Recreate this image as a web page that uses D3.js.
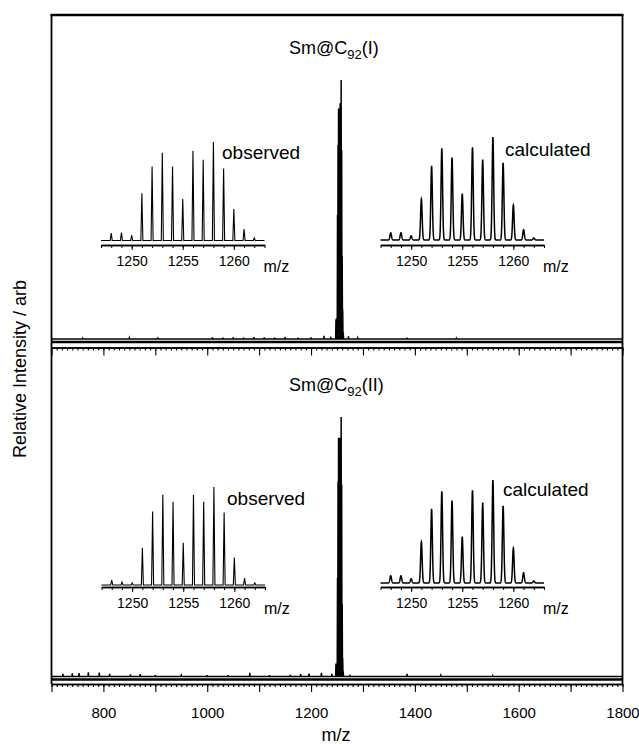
<!DOCTYPE html>
<html>
<head>
<meta charset="utf-8">
<script src="https://cdn.jsdelivr.net/npm/d3@7/dist/d3.min.js"></script>
<style>
  html, body { margin: 0; padding: 0; background: #fff; }
  svg { display: block; font-family: "Liberation Sans", Arial, Helvetica, sans-serif; }
</style>
</head>
<body>
<svg id="chart" width="639" height="744"></svg>
<script>
// Isotope cluster of Sm@C92 (m/z) and relative intensities (% of strongest line)
const isotopeMz   = [1248, 1249, 1250, 1251, 1252, 1253, 1254, 1255, 1256, 1257, 1258, 1259, 1260, 1261, 1262];
const observedI   = [7.5, 8, 5.5, 48, 75, 89, 75, 42, 91, 82, 100, 73, 32, 11.5, 2.5];
const observedII  = [5, 3, 2, 38, 75, 92, 85, 43, 92, 85, 100, 74, 28, 7, 2];
const calculated  = [7, 7, 4, 40, 72, 89, 80, 45, 90, 78, 100, 75, 34, 10, 2];

// Minor signals along the baseline of the survey spectra: [m/z, intensity %]
const noiseI = [[760,0.3],[850,0.4],[905,0.3],[1010,0.6],[1030,0.5],[1050,0.6],[1070,0.5],[1090,0.7],
                [1110,0.6],[1130,0.5],[1150,0.7],[1175,0.5],[1200,0.6],[1225,1.2],[1238,0.8],
                [1272,1.0],[1290,0.4],[1385,0.5],[1480,0.3]];
const noiseII = [[722,1.0],[740,1.2],[753,1.3],[771,1.6],[792,1.5],[812,1.0],[852,0.8],[871,0.9],
                 [900,0.5],[950,0.4],[1000,0.5],[1040,0.5],[1082,1.4],[1120,0.5],[1160,0.6],
                 [1180,0.9],[1196,1.1],[1220,1.4],[1240,1.0],[1275,0.6],[1385,1.0],[1450,0.4],[1550,0.3]];

// Axis ticks
const mainMajorTicks = d3.range(700, 1801, 100);
const mainMinorTicks = d3.range(700, 1801, 10);
const mainTickLabels = [800, 1000, 1200, 1400, 1600, 1800];
const insetMinorTicks = d3.range(1247, 1264, 1);
const insetTickLabels = [1250, 1255, 1260];

const panelTitles = ["I", "II"];
const svg = d3.select("#chart");
const FONT = "\"Liberation Sans\", Arial, Helvetica, sans-serif";
const fmt = d3.format("d");

const left = 51.5, right = 622.5;
const x = d3.scaleLinear().domain([700, 1800]).range([left, right]);

const panels = [
  { base: 339, top: 80,  frameBottom: 342, axisY: 347.5, titleY: 54,  iso: observedI,  noise: noiseI,
    obs: { x0: 101, base: 240.5, top: 142, axisY: 245, labelX: 222, labelY: 159 },
    calc:{ x0: 380.5, base: 240, top: 137, axisY: 245, labelX: 505, labelY: 156 } },
  { base: 676.5, top: 417, frameBottom: 679.5, axisY: 684, titleY: 391, iso: observedII, noise: noiseII,
    obs: { x0: 101.5, base: 585, top: 487, axisY: 587, labelX: 227, labelY: 505 },
    calc:{ x0: 380.5, base: 583, top: 480, axisY: 587, labelX: 503, labelY: 496 } }
];

// Survey spectrum line built from the isotope sticks and the minor signals
function spectrumPoints(p) {
  const sticks = p.noise.map(d => ({ mz: d[0], v: d[1] }))
    .concat(isotopeMz.map((m, i) => ({ mz: m, v: p.iso[i] })))
    .sort((a, b) => a.mz - b.mz);
  const pts = [[700, 0]];
  sticks.forEach(s => { pts.push([s.mz - 0.6, 0], [s.mz, s.v], [s.mz + 0.6, 0]); });
  pts.push([1800, 0]);
  return pts;
}

panels.forEach((p, k) => {
  const y = d3.scaleLinear().domain([0, 100]).range([p.base, p.top]);
  const line = d3.line().x(d => x(d[0])).y(d => y(d[1]));

  svg.append("path")
    .attr("d", line(spectrumPoints(p)))
    .attr("fill", "none").attr("stroke", "#000").attr("stroke-width", 1.5)
    .attr("stroke-linejoin", "miter");

  // panel bottom edge
  svg.append("line").attr("x1", left).attr("x2", right)
    .attr("y1", p.frameBottom).attr("y2", p.frameBottom)
    .attr("stroke", "#000").attr("stroke-width", 2.4);

  // x axis with ticks
  const major = d3.axisBottom(x).tickValues(mainMajorTicks).tickSize(8).tickSizeOuter(0)
    .tickFormat(d => (k === 1 && mainTickLabels.includes(d)) ? fmt(d) : "");
  const minor = d3.axisBottom(x).tickValues(mainMinorTicks).tickSize(3).tickSizeOuter(0).tickFormat("");
  const gMinor = svg.append("g").attr("transform", `translate(0,${p.axisY})`).call(minor);
  const gMajor = svg.append("g").attr("transform", `translate(0,${p.axisY})`).call(major);
  [gMinor, gMajor].forEach(g => {
    g.select(".domain").attr("stroke", "#000").attr("stroke-width", 1.6);
    g.selectAll(".tick line").attr("stroke", "#000").attr("stroke-width", 1.1);
  });
  gMajor.selectAll(".tick text").attr("font-family", FONT).attr("font-size", 15)
    .attr("fill", "#000").attr("dy", "1.55em");

  // title
  const t = svg.append("text").attr("x", 289).attr("y", p.titleY)
    .attr("font-family", FONT).attr("font-size", 18).attr("fill", "#000");
  t.append("tspan").text("Sm@C");
  t.append("tspan").attr("font-size", 13).attr("dy", 5).text("92");
  t.append("tspan").attr("dy", -5).text("(" + panelTitles[k] + ")");

  // insets
  drawInset(p.obs, p.iso, "observed", false);
  drawInset(p.calc, calculated, "calculated", true);
});

function drawInset(o, values, label, smooth) {
  const ix = d3.scaleLinear().domain([1247, 1263]).range([o.x0, o.x0 + 163.5]);
  const iy = d3.scaleLinear().domain([0, 100]).range([o.base, o.top]);
  let pts;
  if (smooth) {
    // simulated profile: gaussian line shape around each isotope line
    const sigma = 0.075;
    pts = d3.range(1247, 1263.001, 0.01).map(m => {
      let v = 0;
      isotopeMz.forEach((c, i) => { v += values[i] * Math.exp(-((m - c) ** 2) / (2 * sigma * sigma)); });
      return [m, v];
    });
  } else {
    pts = [[1247, 0]];
    isotopeMz.forEach((m, i) => { pts.push([m - 0.1, 0], [m, values[i]], [m + 0.1, 0]); });
    pts.push([1263, 0]);
  }
  const line = d3.line().x(d => ix(d[0])).y(d => iy(d[1]));
  svg.append("path").attr("d", line(pts))
    .attr("fill", "none").attr("stroke", "#000").attr("stroke-width", smooth ? 1.5 : 1.1);

  const minor = d3.axisBottom(ix).tickValues(insetMinorTicks).tickSize(3).tickSizeOuter(0).tickFormat("");
  const major = d3.axisBottom(ix).tickValues(insetTickLabels).tickSize(5).tickSizeOuter(0).tickFormat(fmt);
  const g1 = svg.append("g").attr("transform", `translate(0,${o.axisY})`).call(minor);
  const g2 = svg.append("g").attr("transform", `translate(0,${o.axisY})`).call(major);
  [g1, g2].forEach(g => {
    g.select(".domain").attr("stroke", "#000").attr("stroke-width", 1.3);
    g.selectAll(".tick line").attr("stroke", "#000").attr("stroke-width", 1);
  });
  g2.selectAll(".tick text").attr("font-family", FONT).attr("font-size", 14)
    .attr("fill", "#000").attr("dy", "0.95em");

  svg.append("text").attr("x", ix(1263) - 1).attr("y", o.axisY + 27)
    .attr("font-family", FONT).attr("font-size", 16).attr("fill", "#000").text("m/z");
  svg.append("text").attr("x", o.labelX).attr("y", o.labelY)
    .attr("font-family", FONT).attr("font-size", 19).attr("fill", "#000").text(label);
}

// outer frame: top edge and sides
svg.append("line").attr("x1", left - 1).attr("x2", right + 1).attr("y1", 15).attr("y2", 15)
  .attr("stroke", "#000").attr("stroke-width", 2.4);
[left, right].forEach(xx => {
  svg.append("line").attr("x1", xx).attr("x2", xx).attr("y1", 15).attr("y2", 684)
    .attr("stroke", "#000").attr("stroke-width", 1.8);
});

// axis titles
svg.append("text").attr("x", 336).attr("y", 741).attr("text-anchor", "middle")
  .attr("font-family", FONT).attr("font-size", 18).attr("fill", "#000").text("m/z");
svg.append("text").attr("transform", "translate(26,369) rotate(-90)").attr("text-anchor", "middle")
  .attr("font-family", FONT).attr("font-size", 18).attr("fill", "#000").text("Relative Intensity / arb");
</script>
</body>
</html>
